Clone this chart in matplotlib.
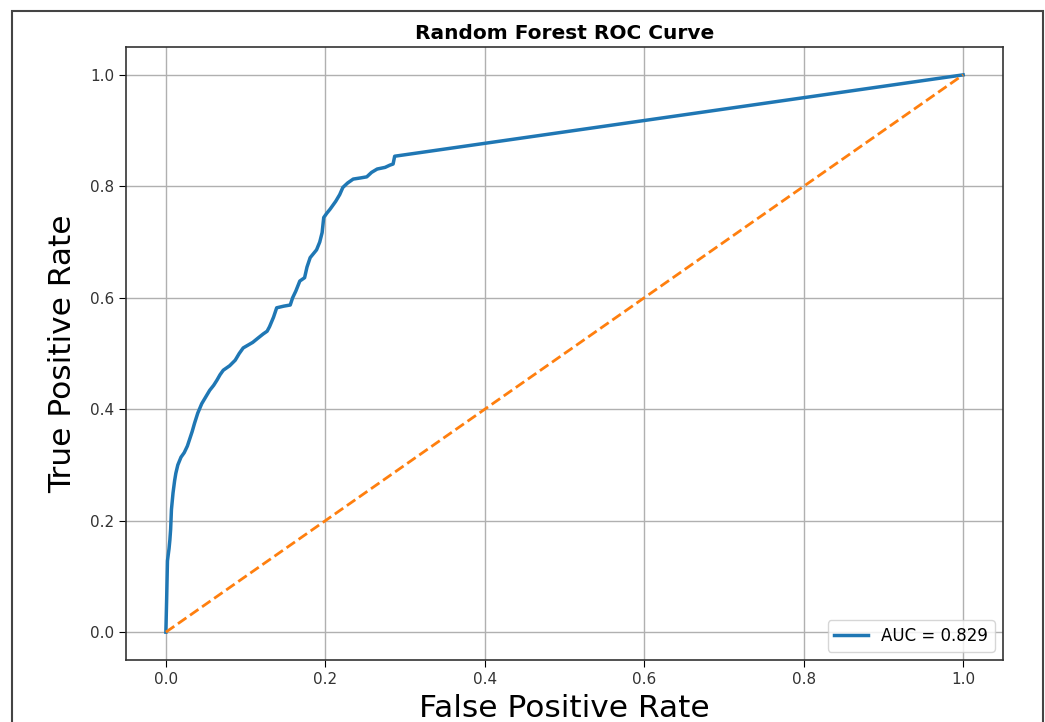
import matplotlib
matplotlib.use("Agg")
import matplotlib.pyplot as plt
from matplotlib.patches import Rectangle

# ROC points
fpr = [0.0, 0.001, 0.002, 0.004, 0.005, 0.006, 0.007, 0.009, 0.011, 0.0125,
       0.015, 0.019, 0.023, 0.027, 0.030, 0.033, 0.036, 0.040, 0.045, 0.050,
       0.055, 0.060, 0.064, 0.068, 0.072, 0.080, 0.087, 0.092, 0.097, 0.103,
       0.109, 0.115, 0.122, 0.127, 0.130, 0.135, 0.139, 0.148, 0.156, 0.159,
       0.163, 0.168, 0.174, 0.177, 0.181, 0.189, 0.193, 0.196, 0.198, 0.202,
       0.206, 0.213, 0.218, 0.222, 0.228, 0.235, 0.244, 0.252, 0.258, 0.265,
       0.275, 0.281, 0.285, 0.287, 1.0]
tpr = [0.0, 0.06, 0.128, 0.15, 0.165, 0.185, 0.22, 0.25, 0.272, 0.285,
       0.30, 0.314, 0.322, 0.334, 0.347, 0.36, 0.375, 0.393, 0.410, 0.422,
       0.434, 0.443, 0.452, 0.462, 0.470, 0.478, 0.488, 0.50, 0.510, 0.515,
       0.520, 0.527, 0.535, 0.540, 0.548, 0.565, 0.582, 0.585, 0.587, 0.600,
       0.612, 0.630, 0.636, 0.655, 0.672, 0.686, 0.700, 0.717, 0.744, 0.752,
       0.759, 0.773, 0.785, 0.798, 0.806, 0.813, 0.815, 0.817, 0.825, 0.831,
       0.834, 0.838, 0.840, 0.854, 1.0]
diag = [0, 1]
auc_label = "AUC = 0.829"

fig = plt.figure(figsize=(10.45, 7.22), dpi=100)
ax = fig.add_axes([126/1045, 62/722, 877/1045, 613/722])

# frame of the screenshot
fig.patches.append(Rectangle((12/1045, -0.1), (1043-12)/1045, 1.1 - 11/722,
                             transform=fig.transFigure, fill=False,
                             edgecolor="#444444", linewidth=1.5))

ax.plot(fpr, tpr, color="tab:blue", linewidth=2.5, label=auc_label)
ax.plot(diag, diag, color="tab:orange", linestyle="--", linewidth=2)

ax.set_title("Random Forest ROC Curve", fontsize=14.5, fontweight="bold")
ax.set_xlabel("False Positive Rate", fontsize=22.5, labelpad=5)
ax.set_ylabel("True Positive Rate", fontsize=22.5, labelpad=9)
ax.tick_params(labelsize=11, length=5, labelcolor="#333333")
ax.grid(True, linewidth=1.0)
ax.legend(loc="lower right", fontsize=12)
for s in ax.spines.values():
    s.set_linewidth(1.2)
    s.set_edgecolor("#333333")

fig.savefig("out.png", dpi=100)
